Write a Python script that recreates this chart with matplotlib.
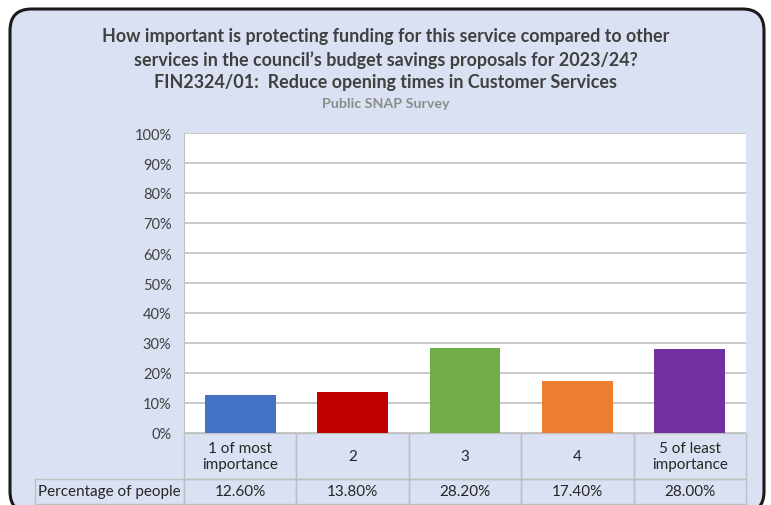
import matplotlib.pyplot as plt
from matplotlib.patches import FancyBboxPatch
from matplotlib.table import Table

categories = ["1 of most\nimportance", "2", "3", "4", "5 of least\nimportance"]
percentages = [12.6, 13.8, 28.2, 17.4, 28.0]
bar_colors = ["#4472C4", "#C00000", "#70AD47", "#ED7D31", "#7030A0"]
row_label = "Percentage of people"
title_lines = "How important is protecting funding for this service compared to other\nservices in the council\u2019s budget savings proposals for 2023/24?\nFIN2324/01:  Reduce opening times in Customer Services"
subtitle = "Public SNAP Survey"

bg = "#D9E1F2"
text_col = "#404040"
grid_col = "#BFBFBF"

plt.rcParams['font.family'] = ['Lato', 'DejaVu Sans']

W, H = 771, 506
fig = plt.figure(figsize=(W / 100, H / 100), dpi=100)
fig.patch.set_facecolor("white")

# rounded chart-area frame
frame = FancyBboxPatch((10 / W, -8 / H), 754 / W, 504 / H,
                       boxstyle="round,pad=0,rounding_size=0.028",
                       transform=fig.transFigure, facecolor=bg,
                       edgecolor="#1a1a1a", linewidth=2.2, mutation_aspect=W / H,
                       zorder=-10)
fig.patches.append(frame)

fig.text(0.5, 1 - 28 / H, title_lines, ha="center", va="top", fontsize=12.9,
         fontweight="bold", color=text_col, linespacing=1.40)
fig.text(0.5, 1 - 104 / H, subtitle, ha="center", va="center", fontsize=10.3,
         fontweight="bold", color="#8C8C8C")

ax = fig.add_axes([184 / W, (H - 434) / H, 562 / W, 300 / H])
ax.set_facecolor("white")
x = range(len(categories))
ax.bar(x, percentages, width=0.63, color=bar_colors, zorder=3)
ax.set_xlim(-0.5, len(categories) - 0.5)
ax.set_ylim(0, 100)
ax.set_yticks(range(0, 101, 10))
ax.set_yticklabels([f"{v}%" for v in range(0, 101, 10)], fontsize=10.5, color=text_col)
ax.tick_params(axis="y", length=0, pad=9)
ax.set_xticks([])
ax.yaxis.grid(True, color=grid_col, linewidth=1.2, zorder=0)
for s in ["top", "right", "bottom"]:
    ax.spines[s].set_visible(False)
ax.spines["left"].set_color(grid_col)

# data table under the bars
lw = 149 / 562
tb = Table(ax, bbox=[0, -71 / 300, 1, 71 / 300])
for i, c in enumerate(categories):
    tb.add_cell(0, i, width=0.2, height=46, text=c, loc="center",
                facecolor="none", edgecolor=grid_col)
tb.add_cell(1, -1, width=lw, height=25, text=row_label, loc="center",
            facecolor="none", edgecolor=grid_col)
for i, v in enumerate(percentages):
    tb.add_cell(1, i, width=0.2, height=25, text=f"{v:.2f}%", loc="center",
                facecolor="none", edgecolor=grid_col)
tb.auto_set_font_size(False)
tb.set_fontsize(11)
for cell in tb.get_celld().values():
    cell.get_text().set_color("#262626")
    cell.set_linewidth(1)
ax.add_table(tb)

fig.savefig("out.png", dpi=100, facecolor="white")
